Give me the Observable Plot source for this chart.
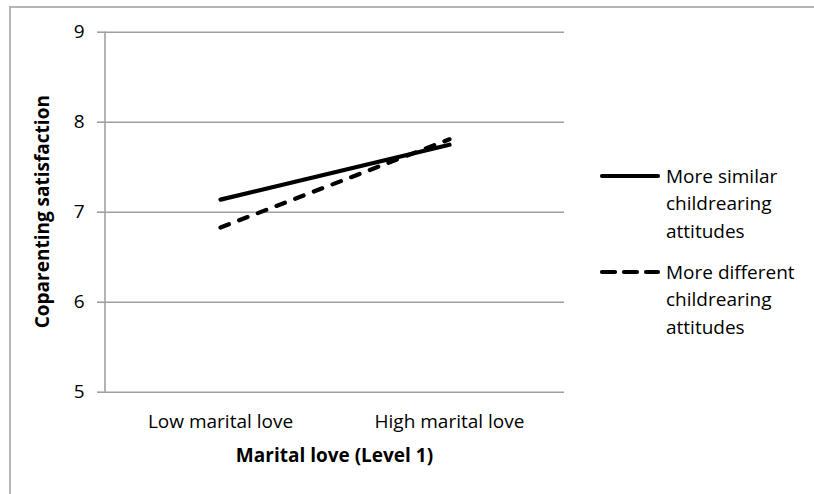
<!DOCTYPE html>
<html>
<head>
<meta charset="utf-8">
<script src="https://cdn.jsdelivr.net/npm/d3@7"></script>
<script src="https://cdn.jsdelivr.net/npm/@observablehq/plot@0.6"></script>
<style>
  html, body { margin: 0; padding: 0; background: #fff; }
  #wrap { position: relative; width: 814px; height: 494px; overflow: hidden; }
  #frame { position: absolute; left: 9px; top: 6px; right: -10px; bottom: -10px; border-top: 2px solid #b5b5b5; border-left: 2px solid #b5b5b5; pointer-events: none; }
  #wrap svg { position: absolute; left: 0; top: 0; }
</style>
</head>
<body>
<div id="wrap"><div id="frame"></div></div>
<script>
const categories = ["Low marital love", "High marital love"];
const seriesNames = ["More similar childrearing attitudes", "More different childrearing attitudes"];
const similarValues = [7.14, 7.75];
const differentValues = [6.83, 7.81];
const yTicks = [5, 6, 7, 8, 9];

const FS = 19;
const rows = [];
categories.forEach((c, i) => {
  rows.push({cat: c, series: seriesNames[0], value: similarValues[i]});
  rows.push({cat: c, series: seriesNames[1], value: differentValues[i]});
});

const chart = Plot.plot({
  width: 814,
  height: 494,
  marginLeft: 105,
  marginRight: 250,
  marginTop: 31.7,
  marginBottom: 102.3,
  style: {fontFamily: "'Open Sans', sans-serif", fontSize: FS + "px", color: "#000", background: "transparent"},
  x: {type: "point", domain: categories, padding: 0.5, label: null},
  y: {domain: [5, 9], ticks: yTicks, label: null},
  marks: [
    Plot.ruleY(yTicks, {y: d => d, stroke: "#a0a0a0", strokeWidth: 1.6, strokeOpacity: 1}),
    Plot.axisY({ticks: yTicks, tickFormat: d3.format("d"), tickSize: 8, tickPadding: 13, stroke: "#a0a0a0", strokeWidth: 1.6, strokeOpacity: 1, fill: "#000", fontSize: FS, label: null}),
    Plot.axisX({tickSize: 0, tickPadding: 22, fontSize: FS, fill: "#000", label: null}),
    Plot.line(rows.filter(d => d.series === seriesNames[0]), {x: "cat", y: "value", stroke: "#000", strokeWidth: 4.2, strokeLinecap: "round"}),
    Plot.line(rows.filter(d => d.series === seriesNames[1]), {x: "cat", y: "value", stroke: "#000", strokeWidth: 4.2, strokeLinecap: "round", strokeDasharray: "9,11"})
  ]
});

document.getElementById("wrap").appendChild(chart);

const svg = d3.select(chart);
const ys = chart.scale("y");
const y9 = ys.apply(9), y5 = ys.apply(5);

// Vertical axis line at the left edge of the plot area
svg.append("line")
  .attr("x1", 105).attr("x2", 105).attr("y1", y9).attr("y2", y5)
  .attr("stroke", "#a0a0a0").attr("stroke-width", 1.6);

// Axis titles
svg.append("text")
  .attr("transform", `translate(49,${(y9 + y5) / 2}) rotate(-90)`)
  .attr("text-anchor", "middle")
  .attr("font-size", FS).attr("font-weight", "bold").attr("fill", "#000")
  .text("Coparenting satisfaction");
svg.append("text")
  .attr("x", 334.5).attr("y", 462)
  .attr("text-anchor", "middle")
  .attr("font-size", FS).attr("font-weight", "bold").attr("fill", "#000")
  .text("Marital love (Level 1)");

// Legend
const legendItems = [
  {lines: ["More similar", "childrearing", "attitudes"], dash: null, y: 176},
  {lines: ["More different", "childrearing", "attitudes"], dash: "13,9", y: 272}
];
legendItems.forEach(item => {
  const g = svg.append("g").attr("text-anchor", "start");
  g.append("line")
    .attr("x1", 602).attr("x2", 658).attr("y1", item.y).attr("y2", item.y)
    .attr("stroke", "#000").attr("stroke-width", 4.2).attr("stroke-linecap", "round")
    .attr("stroke-dasharray", item.dash);
  item.lines.forEach((t, j) => {
    g.append("text")
      .attr("x", 666).attr("y", item.y + j * 27.5)
      .attr("dy", "0.35em")
      .attr("text-anchor", "start")
      .attr("font-size", FS).attr("fill", "#000")
      .text(t);
  });
});
</script>
</body>
</html>
